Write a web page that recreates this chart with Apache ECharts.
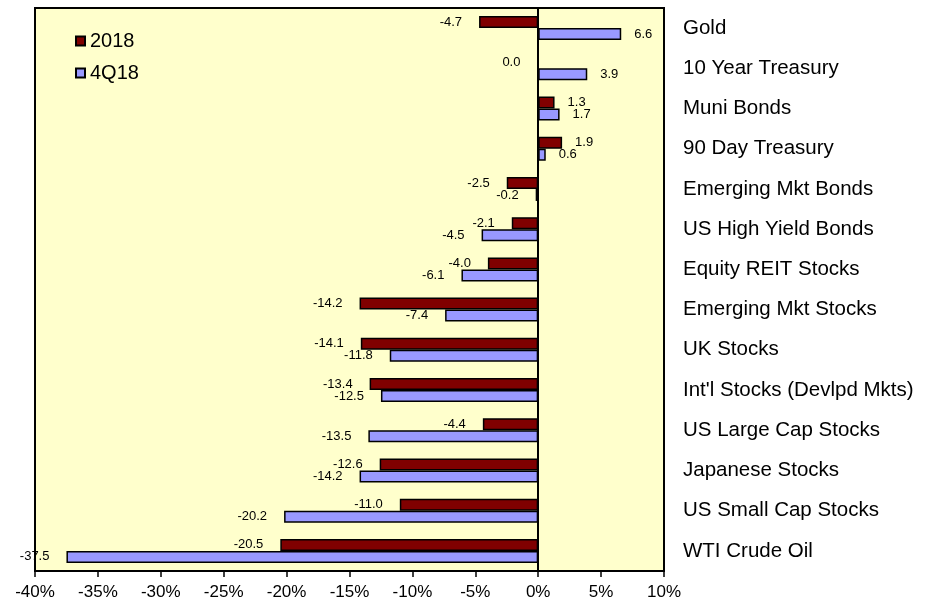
<!DOCTYPE html>
<html>
<head>
<meta charset="utf-8">
<script src="https://cdn.jsdelivr.net/npm/echarts@6/dist/echarts.min.js"></script>
<style>
  html, body { margin: 0; padding: 0; background: #ffffff; }
  #chart { width: 939px; height: 601px; }
</style>
</head>
<body>
<div id="chart"></div>
<script>
// Asset class returns (%), listed top to bottom
const categories = [
  'Gold', '10 Year Treasury', 'Muni Bonds', '90 Day Treasury',
  'Emerging Mkt Bonds', 'US High Yield Bonds', 'Equity REIT Stocks',
  'Emerging Mkt Stocks', 'UK Stocks', "Int'l Stocks (Devlpd Mkts)",
  'US Large Cap Stocks', 'Japanese Stocks', 'US Small Cap Stocks', 'WTI Crude Oil'
];
const returns2018 = [-4.7, 0.0, 1.3, 1.9, -2.5, -2.1, -4.0, -14.2, -14.1, -13.4, -4.4, -12.6, -11.0, -20.5];
const returns4Q18 = [6.6, 3.9, 1.7, 0.6, -0.2, -4.5, -6.1, -7.4, -11.8, -12.5, -13.5, -14.2, -20.2, -37.5];
const seriesNames = ['2018', '4Q18'];
const xTicks = { min: -40, max: 10, step: 5 };

const FONT = "'Liberation Sans', Arial, sans-serif";

// value labels sit outside the bar end: left of negatives, right of positives
function withLabels(values) {
  return values.map(v => ({
    value: v,
    label: {
      position: v <= 0 ? 'left' : 'right',
      distance: v <= 0 ? 17 : 13
    }
  }));
}

const chart = echarts.init(document.getElementById('chart'), null, { renderer: 'canvas' });

const barLabel = {
  show: true,
  color: '#000',
  fontSize: 13,
  fontFamily: FONT,
  formatter: p => Number(p.value).toFixed(1)
};

chart.setOption({
  animation: false,
  backgroundColor: '#ffffff',
  textStyle: { fontFamily: FONT },
  grid: {
    left: 35, right: 275, top: 8, bottom: 28,
    show: true,
    backgroundColor: '#FFFFCC',
    borderColor: '#000',
    borderWidth: 2
  },
  legend: {
    orient: 'vertical',
    left: 70,
    top: 26,
    itemWidth: 9,
    itemHeight: 9,
    itemGap: 12,
    icon: 'rect',
    textStyle: { color: '#000', fontSize: 20, lineHeight: 20, fontFamily: FONT },
    data: seriesNames
  },
  xAxis: {
    type: 'value',
    min: xTicks.min,
    max: xTicks.max,
    interval: xTicks.step,
    axisLine: { show: true, lineStyle: { color: '#000', width: 2 } },
    axisTick: { show: true, length: 6, lineStyle: { color: '#000', width: 1.5 } },
    splitLine: { show: false },
    axisLabel: {
      color: '#000',
      fontSize: 17,
      fontFamily: FONT,
      margin: 13,
      formatter: '{value}%'
    }
  },
  yAxis: {
    type: 'category',
    data: categories,
    inverse: true,
    position: 'right',
    axisLine: { show: false },
    axisTick: { show: false },
    splitLine: { show: false },
    axisLabel: {
      color: '#000',
      fontSize: 20.5,
      fontFamily: FONT,
      margin: 19,
      padding: [5, 0, 0, 0]
    }
  },
  series: [
    {
      name: seriesNames[0],
      type: 'bar',
      barWidth: 12,
      barGap: '0%',
      data: withLabels(returns2018),
      itemStyle: { color: '#800000', borderColor: '#000', borderWidth: 1.5 },
      label: barLabel
    },
    {
      name: seriesNames[1],
      type: 'bar',
      barWidth: 12,
      barGap: '0%',
      data: withLabels(returns4Q18),
      itemStyle: { color: '#9999FF', borderColor: '#000', borderWidth: 1.5 },
      label: barLabel,
      markLine: {
        silent: true,
        symbol: ['none', 'none'],
        label: { show: false },
        lineStyle: { color: '#000', width: 2, type: 'solid' },
        data: [{ xAxis: 0 }]
      }
    }
  ]
});
</script>
</body>
</html>
